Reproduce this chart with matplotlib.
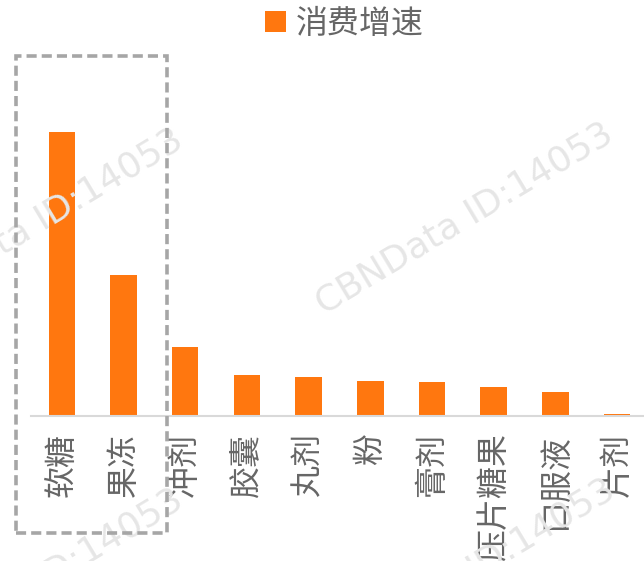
import matplotlib
matplotlib.use("Agg")
import matplotlib.pyplot as plt
from matplotlib.patches import Rectangle

plt.rcParams['font.family'] = ['Noto Sans CJK SC', 'DejaVu Sans']

# data
categories = ['软糖', '果冻', '冲剂', '胶囊', '丸剂', '粉', '膏剂', '压片糖果', '口服液', '片剂']
growth = [2.84, 1.41, 0.69, 0.41, 0.39, 0.35, 0.34, 0.29, 0.24, 0.02]
series_name = '消费增速'
watermark = 'CBNData ID:14053'

bar_color = '#FF770F'
text_color = '#666666'

fig = plt.figure(figsize=(6.44, 5.61), dpi=100)
ax = fig.add_axes([0.0481, 0.2585, 0.958, 0.6239])

# watermarks in the background
for (px, py) in [(34, 224), (464, 218), (34, 584), (466, 574)]:
    fig.text(px / 644, 1 - py / 561, watermark, rotation=31, fontsize=26,
             family='DejaVu Sans', color='#e6e6e6', ha='center', va='center',
             rotation_mode='anchor', zorder=0)

x = range(len(categories))
ax.bar(x, growth, width=0.43, color=bar_color, label=series_name, zorder=2)

ax.set_xlim(-0.5, 9.5)
ax.set_ylim(0, 3.5)
ax.set_xticks(list(x))
ax.set_xticklabels(categories, rotation=90, fontsize=23, color=text_color, va='top')
ax.tick_params(axis='x', length=0, pad=12)
ax.set_yticks([])
for s in ['top', 'left', 'right']:
    ax.spines[s].set_visible(False)
ax.spines['bottom'].set_color('#d9d9d9')
ax.spines['bottom'].set_linewidth(1.5)
ax.patch.set_alpha(0)

leg = ax.legend(loc='center', bbox_to_anchor=(0.535, 1 - 24 / 561), bbox_transform=fig.transFigure,
                frameon=False, fontsize=23, handlelength=0.65, handleheight=0.65,
                handletextpad=0.3, borderaxespad=0)
for t in leg.get_texts():
    t.set_color(text_color)

# dashed highlight box around the first two categories
box = Rectangle((16 / 644, 1 - 533 / 561), 151 / 644, 477 / 561, transform=fig.transFigure,
                fill=False, edgecolor='#a6a6a6', linewidth=2.6, linestyle=(0, (2.8, 1.4)),
                zorder=5)
fig.patches.append(box)

fig.savefig('out.png', dpi=100)
